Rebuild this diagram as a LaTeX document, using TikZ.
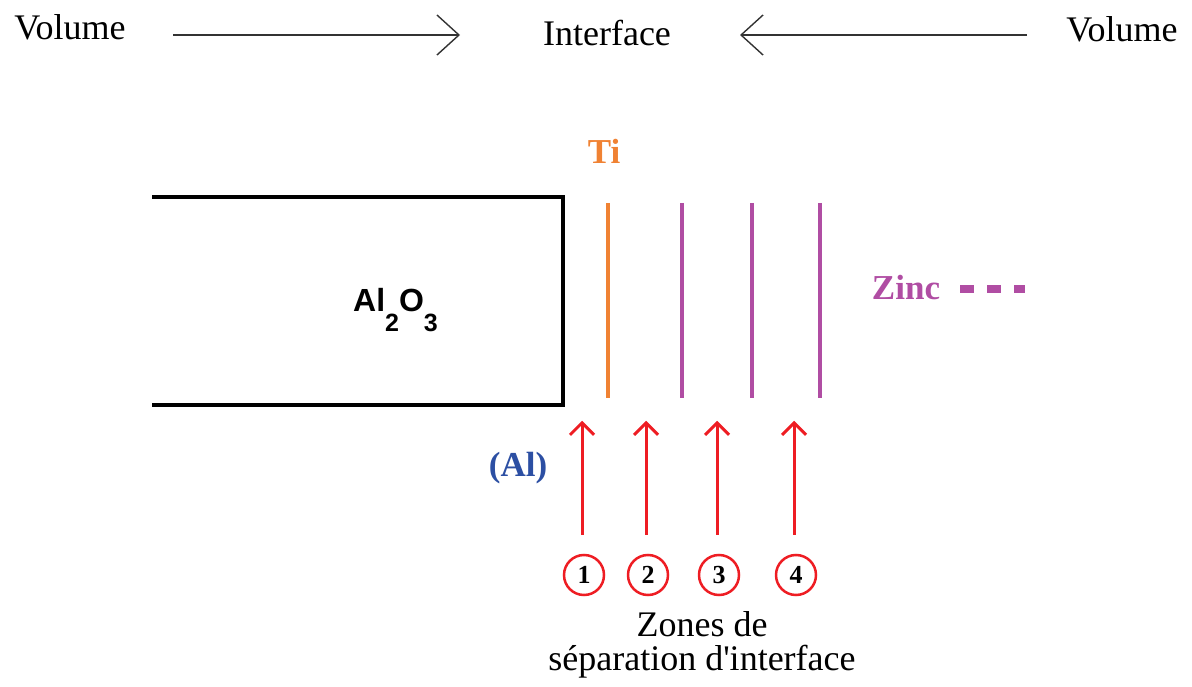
\documentclass[tikz,border=0pt]{standalone}
\usepackage{fontspec}
\setmainfont{Liberation Serif}
\setsansfont{Liberation Sans}
\newfontfamily\plainserif{Liberation Serif}
\usetikzlibrary{arrows.meta, positioning}
\definecolor{tiorange}{HTML}{F08233}
\definecolor{znpurple}{HTML}{B04DA3}
\definecolor{alblue}{HTML}{2C4FA3}
\definecolor{zonered}{HTML}{EE1D23}
\tikzset{
  bigtxt/.style   = {font=\fontsize{36}{35}\selectfont, inner sep=0pt},
  eltxt/.style    = {font=\fontsize{35}{35}\selectfont\bfseries, inner sep=0pt},
  volarr/.style   = {draw=black!80, line width=1.4pt,
                     -{Straight Barb[length=22pt, width=40pt]}},
  substrate/.style= {draw=black, line width=4.5pt},
  tiline/.style   = {draw=tiorange, line width=4pt},
  znline/.style   = {draw=znpurple, line width=4pt},
  zonearr/.style  = {draw=zonered, line width=3pt,
                     -{Straight Barb[length=12pt, width=24pt]}},
  zonenum/.style  = {circle, draw=zonered, line width=2.5pt, minimum size=40pt,
                     inner sep=0pt, font=\fontsize{26}{26}\selectfont\bfseries},
}
\newcommand{\subnum}[1]{\raisebox{-20pt}{\fontsize{25}{25}\selectfont #1}}

\begin{document}
\begin{tikzpicture}[x=1pt, y=-1pt]
  \useasboundingbox (0,0) rectangle (1192,687);
  % volume -> interface <- volume
  \node[bigtxt, anchor=base] (volL) at (70,40) {Volume};
  \node[bigtxt, anchor=base] (iface) at (607,46) {Interface};
  \node[bigtxt, anchor=base] (volR) at (1122,42) {Volume};
  \coordinate (la) at (173,35);
  \coordinate (lb) at (460,35);
  \coordinate (ra) at (1027,35);
  \coordinate (rb) at (740,35);
  \draw[volarr] (la) -- (lb);
  \draw[volarr] (ra) -- (rb);
  % substrate
  \draw[substrate] (152,197) -- (563,197) -- (563,405) -- (152,405);
  \node[anchor=base west, inner sep=0pt, font=\sffamily\bfseries\fontsize{32}{32}\selectfont]
       (alox) at (353,312) {Al\subnum{2}O\subnum{3}};
  % Ti and zinc layers
  \node[eltxt, text=tiorange, anchor=base] (ti) at (604,164) {Ti};
  \draw[tiline] (608,203) -- (608,398);
  \foreach \x in {682,752,820}
    \draw[znline] (\x,203) -- (\x,398);
  \node[eltxt, text=znpurple, anchor=base] (zinc) at (906,300) {Zinc};
  \coordinate (zda) at (960,289);
  \coordinate (zdb) at (1025,289);
  \draw[znpurple, line width=8pt, dash pattern=on 14pt off 13pt] (zda) -- (zdb);
  \node[eltxt, text=alblue] (al) at (518,468) {(Al)};
  % zones
  \foreach \i/\x in {1/584,2/648,3/719,4/796} {
    \node[zonenum] (z\i) at (\x,575) {\i};
    \draw[zonearr] ([xshift=-2pt,yshift=19pt]z\i.north) -- ++(0,-114);
  }
  \node[inner sep=0pt, align=center, anchor=north, font=\plainserif\fontsize{36}{34}\selectfont]
       (zones) at (702,611) {Zones de\\s\'eparation d'interface};
\end{tikzpicture}
\end{document}
